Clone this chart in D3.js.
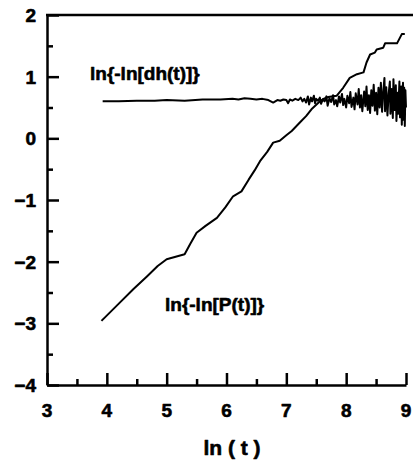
<!DOCTYPE html>
<html><head><meta charset="utf-8">
<script src="https://cdn.jsdelivr.net/npm/d3@7"></script>
<style>
html,body{margin:0;padding:0;background:#fff;}
svg{display:block;}
</style></head><body>
<svg id="chart" width="413" height="464"></svg>
<script>
const xTicks = [3,4,5,6,7,8,9];
const xMinorTicks = [3.5,4.5,5.5,6.5,7.5,8.5];
const yTicks = [-4,-3,-2,-1,0,1,2];
const yMinorTicks = [-3.5,-2.5,-1.5,-0.5,0.5,1.5];
const xTitle = "ln ( t )";
const labelP = "ln{-ln[P(t)]}";
const labelDh = "ln{-ln[dh(t)]}";

// ln{-ln[P(t)]}
const seriesP = [
 [3.91,-2.96],[4.2,-2.68],[4.45,-2.44],[4.67,-2.24],[4.85,-2.07],[5.0,-1.96],[5.15,-1.92],[5.3,-1.88],
 [5.4,-1.70],[5.5,-1.53],[5.65,-1.42],[5.84,-1.29],[5.98,-1.12],[6.11,-0.94],[6.25,-0.86],[6.37,-0.67],
 [6.47,-0.52],[6.56,-0.37],[6.68,-0.22],[6.78,-0.07],[6.89,-0.04],[7.0,0.05],[7.09,0.12],[7.23,0.26],
 [7.33,0.36],[7.42,0.47],[7.54,0.58],[7.62,0.64],[7.7,0.67],[7.84,0.69],[7.95,0.82],[8.06,0.98],
 [8.18,1.04],[8.29,1.07],[8.34,1.23],[8.40,1.36],[8.48,1.39],[8.51,1.44],[8.62,1.47],[8.65,1.54],
 [8.85,1.54],[8.93,1.69],[8.98,1.69]
];

// ln{-ln[dh(t)]}
const seriesDh = [
 [3.93,0.60],[4.2,0.60],[4.5,0.61],[4.8,0.61],[5.0,0.62],[5.3,0.61],[5.6,0.63],[5.9,0.63],[6.1,0.64],
 [6.2,0.63],[6.3,0.65],[6.4,0.64],[6.5,0.63],[6.6,0.64],[6.7,0.62],[6.78,0.58],[6.85,0.62],[6.9,0.61],
 [6.95,0.63],[7.0,0.62],[7.03,0.57],[7.06,0.63],[7.1,0.61],[7.15,0.64],[7.2,0.62],[7.24,0.66],[7.27,0.60],
 [7.3,0.64],[7.33,0.58],[7.36,0.68],[7.38,0.55],[7.41,0.66],[7.43,0.60],[7.46,0.69],[7.48,0.57],[7.5,0.64],
 [7.53,0.61],[7.56,0.66],[7.58,0.56],[7.61,0.63],[7.64,0.60],[7.67,0.68],[7.69,0.53],[7.72,0.65],[7.75,0.59],
 [7.78,0.70],[7.8,0.55],[7.83,0.62],[7.85,0.52],[7.88,0.68],[7.9,0.58],[7.93,0.72],[7.95,0.54],[7.97,0.64],
 [8.0,0.50],[8.02,0.69],[8.05,0.57],[8.07,0.75],[8.09,0.51],[8.12,0.66],[8.14,0.47],[8.16,0.73],[8.19,0.55],
 [8.21,0.80],[8.23,0.50],[8.25,0.70],[8.27,0.44],[8.30,0.76],[8.32,0.52],[8.34,0.84],[8.36,0.46],[8.38,0.70],
 [8.40,0.41],[8.42,0.78],[8.44,0.53],[8.46,0.87],[8.48,0.45],[8.50,0.74],[8.52,0.39],[8.54,0.82],[8.56,0.50],
 [8.58,0.90],[8.60,0.43],[8.62,0.76],[8.64,0.98],[8.65,0.44],[8.67,0.83],[8.69,0.37],[8.71,0.72],[8.73,0.92],
 [8.74,0.40],[8.76,0.80],[8.78,0.33],[8.79,0.96],[8.81,0.46],[8.83,0.86],[8.84,0.28],[8.86,0.74],[8.87,0.40],
 [8.89,0.92],[8.90,0.34],[8.92,0.84],[8.93,0.22],[8.94,0.70],[8.95,0.90],[8.96,0.30],[8.97,0.82],[8.98,0.20],
 [8.99,0.78],[9.0,0.50]
];

const FONT = '"Liberation Sans", Arial, Helvetica, sans-serif';
const svg = d3.select("#chart");
const x = d3.scaleLinear().domain([3,9]).range([47,406]);
const y = d3.scaleLinear().domain([-4,2]).range([385,15]);
const SW = "2.5px";

// top frame line
svg.append("line").attr("x1", x(3)-1).attr("x2", 413).attr("y1", y(2)).attr("y2", y(2))
  .style("stroke","#000").style("stroke-width",SW);

function ticksOnly(g, keepDomain){
  if(!keepDomain) g.select(".domain").remove();
  g.selectAll(".domain").style("stroke","#000").style("stroke-width",SW);
  g.selectAll(".tick line").style("stroke","#000").style("stroke-width",SW);
  g.selectAll(".tick text").remove();
}

// minor ticks
svg.append("g").attr("transform",`translate(0,${y(-4)})`)
  .call(d3.axisBottom(x).tickValues(xMinorTicks).tickSize(-6).tickSizeOuter(0))
  .call(g=>ticksOnly(g,false));
svg.append("g").attr("transform",`translate(${x(3)},0)`)
  .call(d3.axisLeft(y).tickValues(yMinorTicks).tickSize(-6).tickSizeOuter(0))
  .call(g=>ticksOnly(g,false));

// major axes
svg.append("g").attr("transform",`translate(0,${y(-4)})`)
  .call(d3.axisBottom(x).tickValues(xTicks).tickSize(-12).tickSizeOuter(0))
  .call(g=>ticksOnly(g,true));
svg.append("g").attr("transform",`translate(${x(3)},0)`)
  .call(d3.axisLeft(y).tickValues(yTicks).tickSize(-12).tickSizeOuter(0))
  .call(g=>ticksOnly(g,true));

function heavy(sel){
  return sel.attr("font-family",FONT).attr("font-weight","bold").attr("fill","#000")
    .attr("stroke","#000").attr("stroke-width",0.6).attr("stroke-linejoin","round");
}

// tick labels
svg.append("g").selectAll("text").data(xTicks).join("text")
  .attr("x", d=>x(d)).attr("y", y(-4)+32).attr("text-anchor","middle")
  .attr("font-size",19).call(heavy)
  .text(d=>d3.format("d")(d));
svg.append("g").selectAll("text").data(yTicks).join("text")
  .attr("x", x(3)-11).attr("y", d=>y(d)+7).attr("text-anchor","end")
  .attr("font-size",19).call(heavy)
  .text(d=>d3.format("d")(d));

// lines
const line = d3.line().x(d=>x(d[0])).y(d=>y(d[1]));
svg.append("path").datum(seriesP).attr("d",line).style("fill","none")
  .style("stroke","#000").style("stroke-width","2px").style("stroke-linejoin","round");
svg.append("path").datum(seriesDh).attr("d",line).style("fill","none")
  .style("stroke","#000").style("stroke-width","2px").style("stroke-linejoin","round");

// labels
function lbl(xp, yp, size, txt, anchor){
  svg.append("text").attr("x",xp).attr("y",yp).attr("text-anchor",anchor||"start")
    .attr("font-size",size).call(heavy).text(txt);
}
lbl(90, 80, 19, labelDh);
lbl(165, 311, 19, labelP);
lbl(232, 455, 21, xTitle, "middle");
</script>
</body></html>
